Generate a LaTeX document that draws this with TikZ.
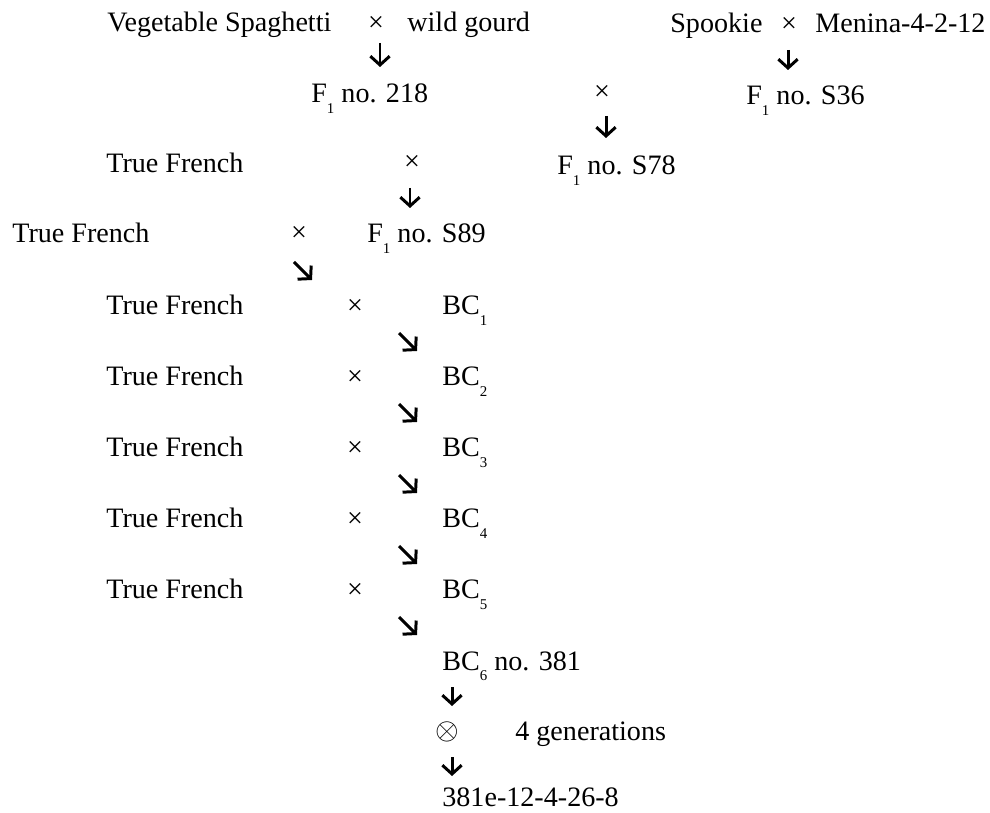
\documentclass[tikz,border=0pt]{standalone}
\usepackage{fontspec}
\setmainfont{Liberation Serif}
\usepackage{tikz}
\usetikzlibrary{arrows.meta}

\newcommand\lowidx[1]{\raisebox{-0.36em}{\fontsize{8.5}{8.5}\selectfont #1}}
\tikzset{
  lbl/.style={anchor=base west, inner sep=0pt, font=\fontsize{16}{19}\selectfont},
  crs/.style={anchor=base, inner sep=0pt, font=\fontsize{16}{19}\selectfont},
  dn/.style={line width=1.7pt, -{Straight Barb[length=5pt,width=11pt]}}
}

\begin{document}
\begin{tikzpicture}[x=0.02cm, y=-0.02cm]
  \useasboundingbox (0,0) rectangle (990,813);

  % first crosses
  \node[lbl] (veg) at (107,32) {Vegetable Spaghetti};
  \node[crs] (x1) at (376,32) {×};
  \node[lbl] (wild) at (407,32) {wild gourd};
  \node[lbl] (spook) at (670,33) {Spookie};
  \node[crs] (x2) at (789,33) {×};
  \node[lbl] (menina) at (815,33) {Menina-4-2-12};

  \node[lbl] (f218) at (311,103) {F\lowidx{1} no. 218};
  \node[crs] (x3) at (602,101) {×};
  \node[lbl] (f36) at (746,105) {F\lowidx{1} no. S36};

  \node[lbl] (tf0) at (106,173) {True French};
  \node[crs] (x4) at (412,171) {×};
  \node[lbl] (f78) at (557,175) {F\lowidx{1} no. S78};

  \node[lbl] (tfa) at (12,243) {True French};
  \node[crs] (x5) at (299,242) {×};
  \node[lbl] (f89) at (367,243) {F\lowidx{1} no. S89};

  % backcrosses
  \node[lbl] (tf1) at (106,315) {True French};
  \node[crs] (bx1) at (355,315) {×};
  \node[lbl] (bc1) at (442,315) {BC\lowidx{1}};
  \node[lbl] (tf2) at (106,386) {True French};
  \node[crs] (bx2) at (355,386) {×};
  \node[lbl] (bc2) at (442,386) {BC\lowidx{2}};
  \node[lbl] (tf3) at (106,457) {True French};
  \node[crs] (bx3) at (355,457) {×};
  \node[lbl] (bc3) at (442,457) {BC\lowidx{3}};
  \node[lbl] (tf4) at (106,528) {True French};
  \node[crs] (bx4) at (355,528) {×};
  \node[lbl] (bc4) at (442,528) {BC\lowidx{4}};
  \node[lbl] (tf5) at (106,599) {True French};
  \node[crs] (bx5) at (355,599) {×};
  \node[lbl] (bc5) at (442,599) {BC\lowidx{5}};

  \node[lbl] (bc6) at (442,670) {BC\lowidx{6} no. 381};
  \node[inner sep=0pt, font=\fontsize{18}{19}\selectfont] (self) at (447,732) {$\otimes$};
  \node[lbl] (gen) at (515,740) {4 generations};
  \node[lbl] (line) at (442,806) {381e-12-4-26-8};

  % arrow ends
  \coordinate (d1a) at (380,43);  \coordinate (d1b) at (380,67);
  \coordinate (d2a) at (788,50);  \coordinate (d2b) at (788,70);
  \coordinate (d3a) at (606,116); \coordinate (d3b) at (606,138);
  \coordinate (d4a) at (410,188); \coordinate (d4b) at (410,208);
  \coordinate (s0a) at (294,262); \coordinate (s0b) at (312,280);
  \coordinate (s1a) at (399,333); \coordinate (s1b) at (417,351);
  \coordinate (s2a) at (399,404); \coordinate (s2b) at (417,422);
  \coordinate (s3a) at (399,475); \coordinate (s3b) at (417,493);
  \coordinate (s4a) at (399,546); \coordinate (s4b) at (417,564);
  \coordinate (s5a) at (399,617); \coordinate (s5b) at (417,635);
  \coordinate (d5a) at (452,687); \coordinate (d5b) at (452,706);
  \coordinate (d6a) at (452,757); \coordinate (d6b) at (452,776);

  \draw[dn] (d1a) -- (d1b);
  \draw[dn] (d2a) -- (d2b);
  \draw[dn] (d3a) -- (d3b);
  \draw[dn] (d4a) -- (d4b);
  \draw[dn] (s0a) -- (s0b);
  \draw[dn] (s1a) -- (s1b);
  \draw[dn] (s2a) -- (s2b);
  \draw[dn] (s3a) -- (s3b);
  \draw[dn] (s4a) -- (s4b);
  \draw[dn] (s5a) -- (s5b);
  \draw[dn] (d5a) -- (d5b);
  \draw[dn] (d6a) -- (d6b);
\end{tikzpicture}
\end{document}
